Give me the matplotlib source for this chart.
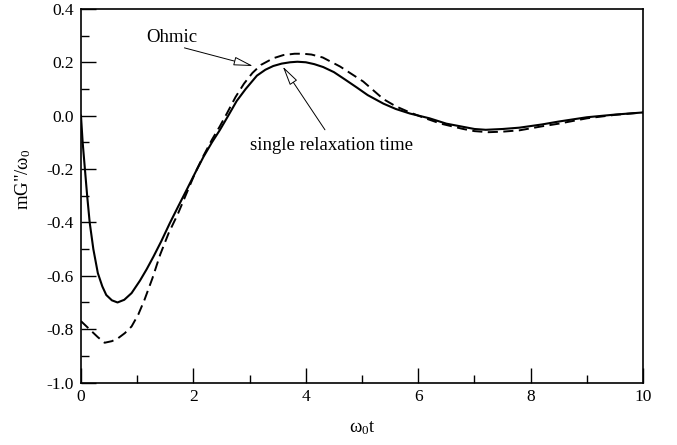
import matplotlib
matplotlib.use("Agg")
import matplotlib.pyplot as plt
from matplotlib.ticker import MultipleLocator

plt.rcParams['font.family'] = ['Liberation Serif', 'DejaVu Serif']
plt.rcParams['mathtext.fontset'] = 'custom'
plt.rcParams['mathtext.rm'] = 'Liberation Serif'
plt.rcParams['mathtext.it'] = 'Liberation Serif'
plt.rcParams['axes.unicode_minus'] = False

# single relaxation time (solid)
t_solid = [0, 0.03, 0.066, 0.11, 0.155, 0.22, 0.30, 0.38, 0.45, 0.55, 0.65, 0.77,
           0.90, 1.05, 1.17, 1.29, 1.43, 1.58, 1.73, 1.88, 2.03, 2.18, 2.33, 2.47,
           2.62, 2.77, 2.93, 3.13, 3.28, 3.42, 3.57, 3.72, 3.85, 4.00, 4.15, 4.31,
           4.50, 4.70, 4.91, 5.10, 5.38, 5.60, 5.85, 6.20, 6.50, 6.80, 7.00, 7.20,
           7.50, 7.80, 8.20, 8.50, 9.00, 9.50, 10.0]
v_solid = [0.0, -0.10, -0.19, -0.30, -0.40, -0.50, -0.59, -0.64, -0.672, -0.692,
           -0.70, -0.69, -0.665, -0.618, -0.575, -0.528, -0.47, -0.403, -0.34,
           -0.278, -0.215, -0.154, -0.10, -0.054, 0.0, 0.055, 0.10, 0.150, 0.172,
           0.186, 0.195, 0.200, 0.202, 0.200, 0.193, 0.182, 0.163, 0.135, 0.105,
           0.077, 0.045, 0.025, 0.008, -0.010, -0.030, -0.042, -0.050, -0.053,
           -0.050, -0.045, -0.033, -0.022, -0.006, 0.004, 0.012]

# Ohmic (dashed)
t_ohmic = [0, 0.10, 0.20, 0.30, 0.42, 0.55, 0.66, 0.78, 0.90, 1.02, 1.13, 1.27,
           1.41, 1.56, 1.72, 1.88, 2.03, 2.18, 2.33, 2.47, 2.60, 2.75, 2.90, 3.05,
           3.20, 3.42, 3.60, 3.80, 3.95, 4.10, 4.30, 4.61, 4.80, 5.02, 5.20, 5.38,
           5.60, 5.85, 6.10, 6.40, 6.80, 7.00, 7.25, 7.50, 7.80, 8.20, 8.50, 9.00,
           9.50, 10.0]
v_ohmic = [-0.77, -0.79, -0.81, -0.83, -0.851, -0.845, -0.834, -0.815, -0.79,
           -0.745, -0.69, -0.61, -0.52, -0.44, -0.37, -0.29, -0.215, -0.15, -0.09,
           -0.04, 0.01, 0.07, 0.12, 0.16, 0.19, 0.215, 0.227, 0.232, 0.232, 0.229,
           0.218, 0.184, 0.158, 0.128, 0.095, 0.062, 0.035, 0.012, -0.008, -0.030,
           -0.050, -0.058, -0.062, -0.060, -0.055, -0.040, -0.030, -0.010, 0.003,
           0.012]

x_ticks = [0, 2, 4, 6, 8, 10]
y_ticks = [-1.0, -0.8, -0.6, -0.4, -0.2, 0.0, 0.2, 0.4]
y_ticklabels = ["-1.0", "-0.8", "-0.6", "-0.4", "-0.2", "0.0", "0.2", "0.4"]

fig = plt.figure(figsize=(6.77, 4.45), dpi=100)
ax = fig.add_axes([0.1196, 0.1404, 0.8304, 0.8396])

ax.plot(t_solid, v_solid, color='black', lw=1.5, solid_joinstyle='round')
ax.plot(t_ohmic, v_ohmic, color='black', lw=1.4, dashes=(5.2, 2.8))

ax.set_xlim(0, 10)
ax.set_ylim(-1.0, 0.4)
ax.set_xticks(x_ticks)
ax.set_xticklabels([str(v) for v in x_ticks])
ax.set_yticks(y_ticks)
ax.set_yticklabels(y_ticklabels)
ax.xaxis.set_minor_locator(MultipleLocator(1))
ax.yaxis.set_minor_locator(MultipleLocator(0.1))
ax.tick_params(which='major', direction='in', length=11, width=1.0, labelsize=12.5,
               top=False, right=False, pad=5)
ax.tick_params(which='minor', direction='in', length=6, width=1.0,
               top=False, right=False)
for s in ax.spines.values():
    s.set_linewidth(1.2)

ax.set_xlabel('ω$_0$t', fontsize=13.5, labelpad=10)
ax.set_ylabel('mG"/ω$_0$', fontsize=13.5)
ax.yaxis.set_label_coords(-0.085, 0.545)

ax.text(1.16, 0.291, 'Ohmic', fontsize=13.5, ha='left', va='center')
ax.annotate('', xy=(3.06, 0.186), xytext=(1.84, 0.254),
            arrowprops=dict(arrowstyle='-|>,head_length=1.2,head_width=0.27',
                            fc='white', ec='black', lw=0.7, mutation_scale=10,
                            shrinkA=0, shrinkB=0))
ax.text(3.01, -0.11, 'single relaxation time', fontsize=13.5, ha='left', va='center')
ax.annotate('', xy=(3.59, 0.184), xytext=(4.34, -0.053),
            arrowprops=dict(arrowstyle='-|>,head_length=1.2,head_width=0.27',
                            fc='white', ec='black', lw=0.7, mutation_scale=10,
                            shrinkA=0, shrinkB=0))

fig.savefig('out.png', dpi=100)
